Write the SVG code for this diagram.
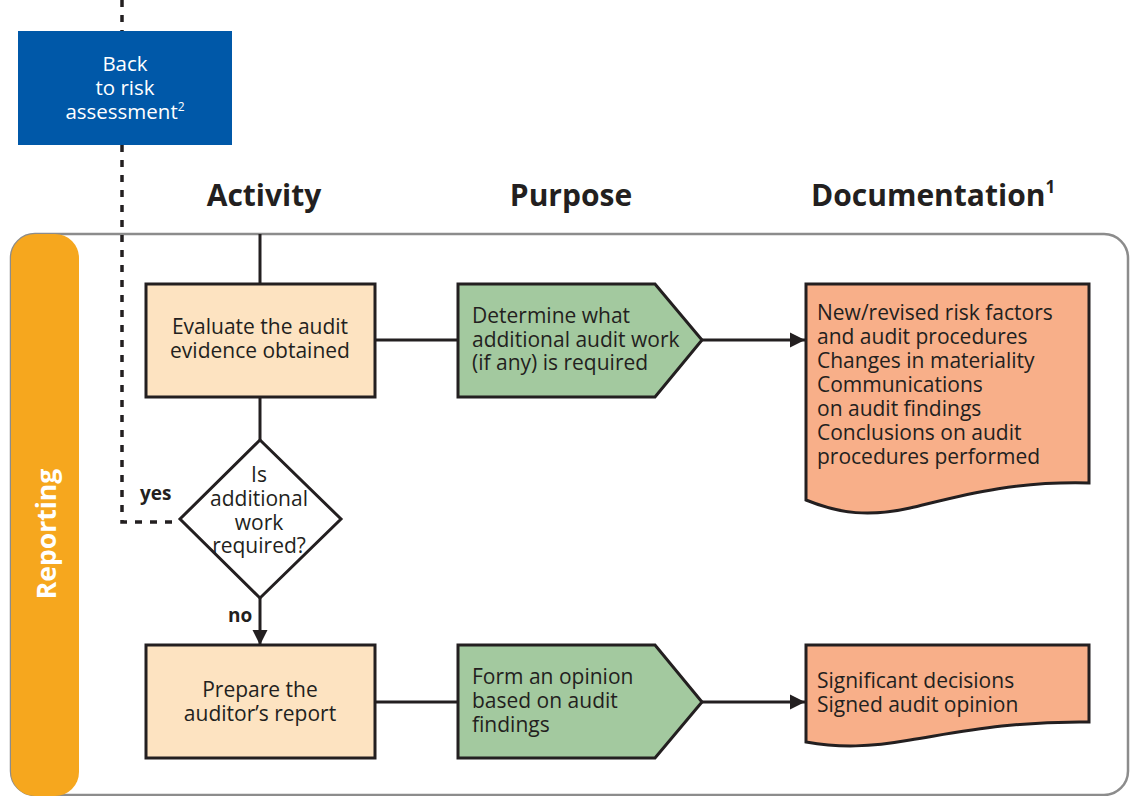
<svg xmlns="http://www.w3.org/2000/svg" width="1134" height="796" viewBox="0 0 1134 796">
<style>
  text { font-family: "Open Sans", "Noto Sans", "Liberation Sans", sans-serif; fill: #231F20; }
  .body { font-size: 21px; }
  .box { font-size: 20.5px; }
  .hdr { font-size: 30px; font-weight: bold; }
  .lbl { font-size: 19px; font-weight: bold; }
  .act { fill: #FDE3C1; stroke: #231F20; stroke-width: 3; }
  .pur { fill: #A3C99F; stroke: #231F20; stroke-width: 3; }
  .doc { fill: #F8AF89; stroke: #231F20; stroke-width: 3; }
  .line { fill: none; stroke: #231F20; stroke-width: 3; }
  .dash { fill: none; stroke: #231F20; stroke-width: 3.5; stroke-dasharray: 7 8; }
  .wt { fill: #FFFFFF; }
</style>
<defs>
  <marker id="arr" viewBox="0 0 10 10" refX="10" refY="5" markerUnits="userSpaceOnUse" markerWidth="15" markerHeight="16" orient="auto">
    <path d="M0,0 L10,5 L0,10 Z" fill="#231F20"/>
  </marker>
</defs>
<rect width="1134" height="796" fill="#FFFFFF"/>

<g id="panel">
  <rect x="11" y="234" width="1117" height="561" rx="24" fill="#FFFFFF" stroke="#8C8C8C" stroke-width="2.5"/>
  <rect x="11" y="234" width="68" height="562" rx="24" fill="#F6A71E"/>
  <text transform="translate(56,534) rotate(-90)" text-anchor="middle" class="wt" style="font-size:26.5px;font-weight:bold;fill:#FFFFFF">Reporting</text>
</g>

<g id="headers">
  <text x="264" y="206" text-anchor="middle" class="hdr">Activity</text>
  <text x="571" y="206" text-anchor="middle" class="hdr">Purpose</text>
  <text x="811" y="206" class="hdr">Documentation<tspan font-size="17" dy="-13">1</tspan></text>
</g>

<g id="connectors">
  <path class="dash" d="M122,0 V31"/>
  <path class="dash" d="M122,145 V522 H180"/>
  <path class="line" d="M260,234 V284"/>
  <path class="line" d="M260,397 V440"/>
  <path class="line" d="M260,598 V645" marker-end="url(#arr)"/>
  <path class="line" d="M375,340 H458"/>
  <path class="line" d="M702,340 H805" marker-end="url(#arr)"/>
  <path class="line" d="M375,702 H458"/>
  <path class="line" d="M702,702 H805" marker-end="url(#arr)"/>
  <text x="140" y="500" class="lbl">yes</text>
  <text x="228" y="622" class="lbl">no</text>
</g>

<g id="back">
  <rect x="18" y="31" width="214" height="114" fill="#0058A8"/>
  <text x="125" y="71" text-anchor="middle" class="box" style="fill:#FFFFFF">Back</text>
  <text x="125" y="95" text-anchor="middle" class="box" style="fill:#FFFFFF">to risk</text>
  <text x="125" y="119" text-anchor="middle" class="box" style="fill:#FFFFFF">assessment<tspan font-size="12" dy="-8">2</tspan></text>
</g>

<g id="evaluate">
  <rect class="act" x="146" y="284" width="229" height="113"/>
  <text x="260" y="334" text-anchor="middle" class="body">Evaluate the audit</text>
  <text x="260" y="358" text-anchor="middle" class="body">evidence obtained</text>
</g>

<g id="decision">
  <path class="line" d="M260,440 L341,519 L260,598 L180,519 Z" style="fill:#FFFFFF"/>
  <text x="259" y="482" text-anchor="middle" class="body">Is</text>
  <text x="259" y="506" text-anchor="middle" class="body">additional</text>
  <text x="259" y="530" text-anchor="middle" class="body">work</text>
  <text x="259" y="553" text-anchor="middle" class="body">required?</text>
</g>

<g id="prepare">
  <rect class="act" x="146" y="645" width="229" height="113"/>
  <text x="260" y="697" text-anchor="middle" class="body">Prepare the</text>
  <text x="260" y="721" text-anchor="middle" class="body">auditor’s report</text>
</g>

<g id="determine">
  <path class="pur" d="M458,284 H655 L702,340 L655,397 H458 Z"/>
  <text x="472" y="323" class="body">Determine what</text>
  <text x="472" y="347" class="body">additional audit work</text>
  <text x="472" y="370" class="body">(if any) is required</text>
</g>

<g id="opinion">
  <path class="pur" d="M458,645 H655 L702,702 L655,758 H458 Z"/>
  <text x="472" y="684" class="body">Form an opinion</text>
  <text x="472" y="708" class="body">based on audit</text>
  <text x="472" y="732" class="body">findings</text>
</g>

<g id="doc1">
  <path class="doc" d="M806,284 H1089 V483 C1010,481 960,496 910,508 C870,517 840,514 806,500 Z"/>
  <text x="817" y="320" class="body">New/revised risk factors</text>
  <text x="817" y="344" class="body">and audit procedures</text>
  <text x="817" y="368" class="body">Changes in materiality</text>
  <text x="817" y="392" class="body">Communications</text>
  <text x="817" y="416" class="body">on audit findings</text>
  <text x="817" y="440" class="body">Conclusions on audit</text>
  <text x="817" y="464" class="body">procedures performed</text>
</g>

<g id="doc2">
  <path class="doc" d="M806,645 H1089 V722 C1010,721 960,732 910,740 C870,747 840,748 806,742 Z"/>
  <text x="817" y="688" class="body">Significant decisions</text>
  <text x="817" y="712" class="body">Signed audit opinion</text>
</g>
</svg>
